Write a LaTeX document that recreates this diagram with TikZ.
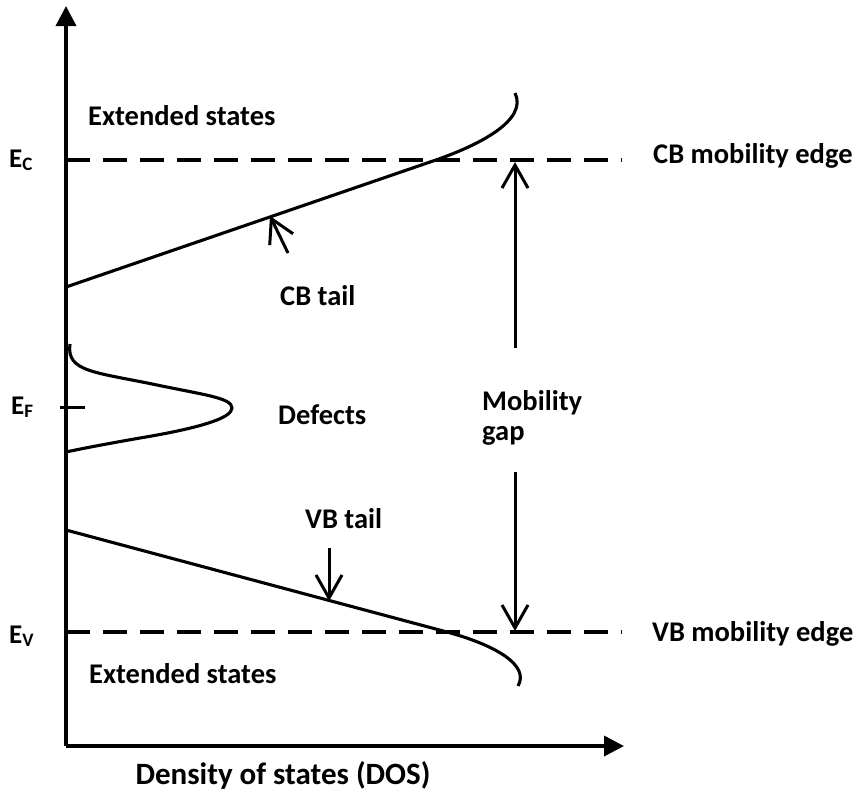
\documentclass[tikz,border=0pt]{standalone}
\usepackage{fontspec}
\setmainfont{Carlito}
\usetikzlibrary{arrows.meta}
\newcommand{\mysub}[1]{\raisebox{-3.5pt}{\fontsize{19}{19}\selectfont #1}}
\begin{document}
\begin{tikzpicture}[x=1pt,y=-1pt,
  lbl/.style={anchor=base west,inner sep=0pt,font=\fontsize{28.5}{31}\selectfont\bfseries},
  elbl/.style={anchor=base west,inner sep=0pt,font=\fontsize{27}{29}\selectfont\bfseries},
  axisline/.style={line width=3.6pt,-{Triangle[length=20pt,width=20pt]}},
  curve/.style={line width=3.1pt},
  edge/.style={line width=3.4pt,dash pattern=on 24pt off 13pt},
  pointer/.style={line width=3pt,-{Straight Barb[length=23pt,width=26pt]}}
]
\useasboundingbox (0,0) rectangle (856,793);

% axes
\coordinate (origin) at (66,746);
\coordinate (ytop) at (66,6);
\coordinate (xend) at (624,746);
\draw[axisline] (origin) -- (ytop);
\draw[axisline] (origin) -- (xend);

% mobility edges
\coordinate (ecl) at (66,160);
\coordinate (ecr) at (622,160);
\coordinate (evl) at (66,632);
\coordinate (evr) at (622,632);
\draw[edge] (ecl) -- (ecr);
\draw[edge] (evl) -- (evr);

% Fermi level tick
\coordinate (efl) at (60,407);
\coordinate (efr) at (85,407);
\draw[line width=3pt] (efl) -- (efr);

% CB tail curve
\draw[curve] (66,287) -- (433,161) .. controls (480,145) and (528,120) .. (515,93);
% VB tail curve
\draw[curve] (66,530) -- (447,632) .. controls (495,645) and (530,665) .. (518,686);
% defects
\draw[curve] (70,344) .. controls (66,372) and (95,372) .. (157,385)
  .. controls (205,395) and (232,398) .. (232,408)
  .. controls (232,418) and (200,428) .. (140,438)
  .. controls (100,445) and (80,449) .. (66,452);

% pointers
\coordinate (cbfrom) at (288,253);
\coordinate (cbto) at (270,216);
\draw[pointer] (cbfrom) -- (cbto);
\coordinate (vbfrom) at (329,548);
\coordinate (vbto) at (329,601);
\draw[pointer] (vbfrom) -- (vbto);
\coordinate (gupfrom) at (515,348);
\coordinate (gupto) at (515,162);
\draw[pointer] (gupfrom) -- (gupto);
\coordinate (gdnfrom) at (515,472);
\coordinate (gdnto) at (515,631);
\draw[pointer] (gdnfrom) -- (gdnto);

% labels
\node[lbl] (ext1) at (88,125) {Extended states};
\node[lbl] (ext2) at (89,683) {Extended states};
\node[elbl] (ec) at (9,167) {E\mysub{C}};
\node[elbl] (ef) at (11,414) {E\mysub{F}};
\node[elbl] (ev) at (9,643) {E\mysub{V}};
\node[lbl] (cbedge) at (653,163) {CB mobility edge};
\node[lbl] (vbedge) at (652,641) {VB mobility edge};
\node[lbl] (cbtail) at (280,305) {CB tail};
\node[lbl] (vbtail) at (305,528) {VB tail};
\node[lbl] (defects) at (278,424) {Defects};
\node[lbl] (mob) at (482,410) {Mobility};
\node[lbl] (gap) at (482,440) {gap};
\node[lbl,anchor=base,font=\fontsize{31}{33}\selectfont\bfseries] (dos) at (283,784) {Density of states (DOS)};
\end{tikzpicture}
\end{document}
